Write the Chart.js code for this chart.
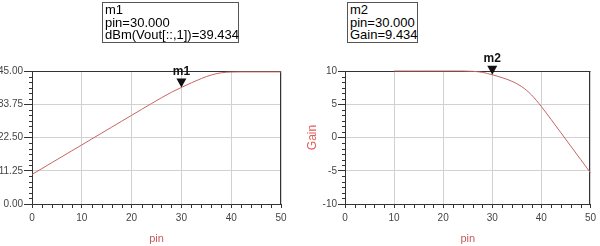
<!DOCTYPE html>
<html><head><meta charset="utf-8">
<script src="https://cdn.jsdelivr.net/npm/chart.js@4/dist/chart.umd.min.js"></script>
<style>
html,body{margin:0;padding:0;background:#fff;width:600px;height:246px;overflow:hidden;font-family:"Liberation Sans",Arial,sans-serif}
.wrap{position:absolute;top:0;width:300px;height:246px}
.box{position:absolute;top:2px;height:41px;border:1px solid #555;font-size:13px;line-height:12.6px;padding:1px 1px 0 2px;box-sizing:border-box;color:#000;white-space:nowrap;background:#fff}
</style></head>
<body>
<div class="wrap" style="left:0"><canvas id="c1" width="300" height="246"></canvas></div>
<div class="wrap" style="left:300px"><canvas id="c2" width="300" height="246"></canvas></div>
<div class="box" style="left:102px;width:137px">m1<br>pin=30.000<br>dBm(Vout[::,1])=39.434</div>
<div class="box" style="left:347px;width:71px">m2<br>pin=30.000<br>Gain=9.434</div>
<script>
// ---- data ----
const pin  = [0,2,4,6,8,10,12,14,16,18,20,22,24,26,28,30,32,34,36,38,40,42,44,46,48,50];
const vout = [10.0,12.0,14.0,16.0,18.0,20.0,22.0,24.0,26.0,28.0,30.0,32.0,34.0,35.95,37.8,39.434,41.0,42.45,43.65,44.4,44.65,44.7,44.7,44.7,44.7,44.7];
const gainPin = [10,12,14,16,18,20,22,24,26,28,30,32,34,36,38,40,42,44,46,48,50];
const gain    = [10.0,10.0,10.0,10.0,10.0,10.0,10.0,10.0,9.95,9.8,9.434,9.0,8.45,7.65,6.4,4.65,2.7,0.7,-1.3,-3.3,-5.3];
const xTicks = [0,10,20,30,40,50];
const xTickLabels = ['0','10','20','30','40','50'];
const voutTicks = [0,11.25,22.5,33.75,45];
const voutTickLabels = ['0.00','11.25','22.50','33.75','45.00'];
const gainTicks = [-10,-5,0,5,10];
const gainTickLabels = ['-10','-5','0','5','10'];
const m1 = {name:'m1', pin:30, value:39.434};
const m2 = {name:'m2', pin:30, value:9.434};

const FONT = '"Liberation Sans", Arial, sans-serif';
const TICKC = '#444';
const LINEC = '#c86464';

function minorVals(ticks, n){
  const out=[];
  for(let i=0;i<ticks.length-1;i++){
    const a=ticks[i], b=ticks[i+1];
    for(let k=1;k<n;k++) out.push(a+(b-a)*k/n);
  }
  return out;
}

const decor = {
  id:'decor',
  beforeDatasetsDraw(chart, args, o){
    const {ctx, chartArea:a} = chart;
    const xs = chart.scales.x, ys = chart.scales.y;
    ctx.save();
    ctx.strokeStyle = '#333'; ctx.lineWidth = 1;
    ctx.beginPath();
    ctx.moveTo(a.left, Math.round(a.top)+0.5); ctx.lineTo(a.right, Math.round(a.top)+0.5);
    ctx.moveTo(Math.round(a.right)-0.5, a.top); ctx.lineTo(Math.round(a.right)-0.5, a.bottom);
    minorVals(o.xTicks, o.xMinor).forEach(v=>{
      const px = Math.round(xs.getPixelForValue(v))+0.5;
      ctx.moveTo(px, a.bottom); ctx.lineTo(px, a.bottom+4);
    });
    minorVals(o.yTicks, o.yMinor).forEach(v=>{
      const py = Math.round(ys.getPixelForValue(v))+0.5;
      ctx.moveTo(a.left-3, py); ctx.lineTo(a.left, py);
    });
    ctx.stroke();
    ctx.restore();
  },
  afterDatasetsDraw(chart, args, o){
    const {ctx} = chart;
    const m = o.marker;
    const px = chart.scales.x.getPixelForValue(m.pin);
    const py = chart.scales.y.getPixelForValue(m.value);
    ctx.save();
    ctx.fillStyle = '#111';
    ctx.beginPath();
    ctx.moveTo(px, py); ctx.lineTo(px-5, py-9); ctx.lineTo(px+5, py-9); ctx.closePath();
    ctx.fill();
    ctx.font = 'bold 12px ' + FONT;
    ctx.textAlign = 'center'; ctx.textBaseline = 'middle';
    ctx.fillText(m.name, px, py-16);
    ctx.restore();
  }
};

function makeChart(id, xData, yData, yTicks, yLabels, yMinor, axisW, rightPad, yTickLen, yTitle, marker){
  const xs = {
    type:'linear', min:0, max:50,
    afterBuildTicks: s => { s.ticks = xTicks.map(v=>({value:v})); },
    afterFit: s => { s.height = 42; },
    ticks:{ font:{family:FONT,size:10}, color:TICKC, padding:4, maxRotation:0,
            callback:(v)=> xTickLabels[xTicks.indexOf(v)] },
    grid:{ color:'#d2d2d2', tickColor:'#333', tickLength:4, drawTicks:true },
    border:{ display:true, color:'#333' },
    title:{ display:true, text:'pin', color:'#c85a5a', font:{family:FONT,size:11}, padding:{top:0,bottom:0} }
  };
  const ys = {
    type:'linear', min:yTicks[0], max:yTicks[yTicks.length-1],
    afterBuildTicks: s => { s.ticks = yTicks.map(v=>({value:v})); },
    afterFit: s => { s.width = axisW; },
    ticks:{ font:{family:FONT,size:10}, color:TICKC, padding:1,
            callback:(v)=> yLabels[yTicks.indexOf(v)] },
    grid:{ color:'#d2d2d2', tickColor:'#333', tickLength:yTickLen },
    border:{ display:true, color:'#333' },
    title: yTitle ? { display:true, text:yTitle, color:'#e05a5a', font:{family:FONT,size:12}, padding:{top:5,bottom:0} } : {display:false}
  };
  return new Chart(document.getElementById(id), {
    type:'line',
    data:{ datasets:[{ data: xData.map((x,i)=>({x, y:yData[i]})), borderColor:LINEC, borderWidth:1,
                       pointRadius:0, tension:0, cubicInterpolationMode:'monotone', clip:false }] },
    options:{
      responsive:false, animation:false, devicePixelRatio:1,
      layout:{ padding:{ top:71, right:rightPad, left:0, bottom:0 } },
      scales:{ x:xs, y:ys },
      plugins:{ legend:{display:false}, tooltip:{enabled:false},
        decor:{ xTicks:xTicks, xMinor:5, yTicks:yTicks, yMinor:6, marker:marker } }
    },
    plugins:[decor]
  });
}

makeChart('c1', pin, vout, voutTicks, voutTickLabels, 6, 32, 19, 8, null, m1);
makeChart('c2', gainPin, gain, gainTicks, gainTickLabels, 6, 45, 6, 7, 'Gain', m2);
</script>
</body></html>
